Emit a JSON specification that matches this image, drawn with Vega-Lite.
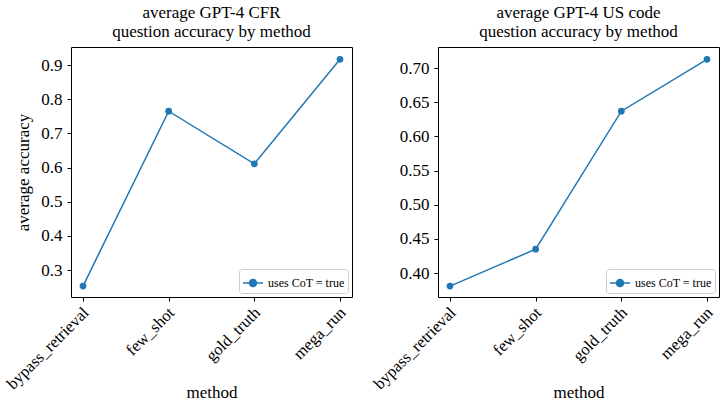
{
  "$schema": "https://vega.github.io/schema/vega-lite/v6.json",
  "padding": {"left": 3, "top": 3, "right": 2, "bottom": 0},
  "background": "white",
  "datasets": {
    "cfr": [
      {"method": "bypass_retrieval", "accuracy": 0.253, "series": "uses CoT = true"},
      {"method": "few_shot", "accuracy": 0.765, "series": "uses CoT = true"},
      {"method": "gold_truth", "accuracy": 0.611, "series": "uses CoT = true"},
      {"method": "mega_run", "accuracy": 0.917, "series": "uses CoT = true"}
    ],
    "uscode": [
      {"method": "bypass_retrieval", "accuracy": 0.381, "series": "uses CoT = true"},
      {"method": "few_shot", "accuracy": 0.435, "series": "uses CoT = true"},
      {"method": "gold_truth", "accuracy": 0.637, "series": "uses CoT = true"},
      {"method": "mega_run", "accuracy": 0.713, "series": "uses CoT = true"}
    ]
  },
  "config": {
    "font": "Liberation Serif",
    "view": {"stroke": "black", "strokeWidth": 1},
    "axis": {
      "grid": false,
      "domain": false,
      "tickColor": "black",
      "tickSize": 4,
      "labelColor": "black",
      "labelFontSize": 17,
      "titleFontSize": 17,
      "titleFontWeight": "normal",
      "titleColor": "black",
      "labelFont": "Liberation Serif",
      "titleFont": "Liberation Serif"
    },
    "title": {"fontSize": 17, "fontWeight": "normal", "color": "black", "font": "Liberation Serif", "offset": 6, "lineHeight": 19},
    "legend": {"labelFont": "Liberation Serif"}
  },
  "spacing": 17,
  "resolve": {"legend": {"color": "independent"}, "scale": {"color": "independent"}},
  "hconcat": [
    {
      "width": 281,
      "height": 250,
      "title": {"text": ["average GPT-4 CFR", "question accuracy by method"]},
      "data": {"name": "cfr"},
      "mark": {"type": "line", "point": {"filled": true, "size": 45}, "strokeWidth": 1.5},
      "encoding": {
        "x": {
          "field": "method", "type": "nominal",
          "scale": {"type": "point", "padding": 0.14},
          "axis": {"title": "method", "labelAngle": -45, "labelAlign": "right", "labelBaseline": "top", "labelPadding": 3, "labelOffset": -3, "labelFontSize": 16.5, "titleY": 100, "titleBaseline": "alphabetic"}
        },
        "y": {
          "field": "accuracy", "type": "quantitative",
          "scale": {"domain": [0.221, 0.953], "nice": false, "zero": false},
          "axis": {"title": "average accuracy", "values": [0.3, 0.4, 0.5, 0.6, 0.7, 0.8, 0.9], "format": ".1f", "labelPadding": 5, "titlePadding": 8}
        },
        "color": {
          "field": "series", "type": "nominal",
          "scale": {"range": ["#1f77b4"]},
          "legend": {
            "title": null, "orient": "bottom-right", "offset": 4,
            "strokeColor": "#cccccc", "cornerRadius": 3, "fillColor": "white", "padding": 3,
            "labelFontSize": 12, "labelColor": "black", "labelOffset": 4,
            "symbolType": "M-1,0H1M0.35,0A0.35,0.35 0 1,1 -0.35,0A0.35,0.35 0 1,1 0.35,0Z",
            "symbolSize": 400, "symbolStrokeWidth": 1.5, "symbolFillColor": "#1f77b4", "symbolStrokeColor": "#1f77b4"
          }
        }
      }
    },
    {
      "width": 281,
      "height": 250,
      "title": {"text": ["average GPT-4 US code", "question accuracy by method"]},
      "data": {"name": "uscode"},
      "mark": {"type": "line", "point": {"filled": true, "size": 45}, "strokeWidth": 1.5},
      "encoding": {
        "x": {
          "field": "method", "type": "nominal",
          "scale": {"type": "point", "padding": 0.14},
          "axis": {"title": "method", "labelAngle": -45, "labelAlign": "right", "labelBaseline": "top", "labelPadding": 3, "labelOffset": -3, "labelFontSize": 16.5, "titleY": 100, "titleBaseline": "alphabetic"}
        },
        "y": {
          "field": "accuracy", "type": "quantitative",
          "scale": {"domain": [0.365, 0.731], "nice": false, "zero": false},
          "axis": {"title": null, "values": [0.4, 0.45, 0.5, 0.55, 0.6, 0.65, 0.7], "format": ".2f", "labelPadding": 5}
        },
        "color": {
          "field": "series", "type": "nominal",
          "scale": {"range": ["#1f77b4"]},
          "legend": {
            "title": null, "orient": "bottom-right", "offset": 4,
            "strokeColor": "#cccccc", "cornerRadius": 3, "fillColor": "white", "padding": 3,
            "labelFontSize": 12, "labelColor": "black", "labelOffset": 4,
            "symbolType": "M-1,0H1M0.35,0A0.35,0.35 0 1,1 -0.35,0A0.35,0.35 0 1,1 0.35,0Z",
            "symbolSize": 400, "symbolStrokeWidth": 1.5, "symbolFillColor": "#1f77b4", "symbolStrokeColor": "#1f77b4"
          }
        }
      }
    }
  ]
}
